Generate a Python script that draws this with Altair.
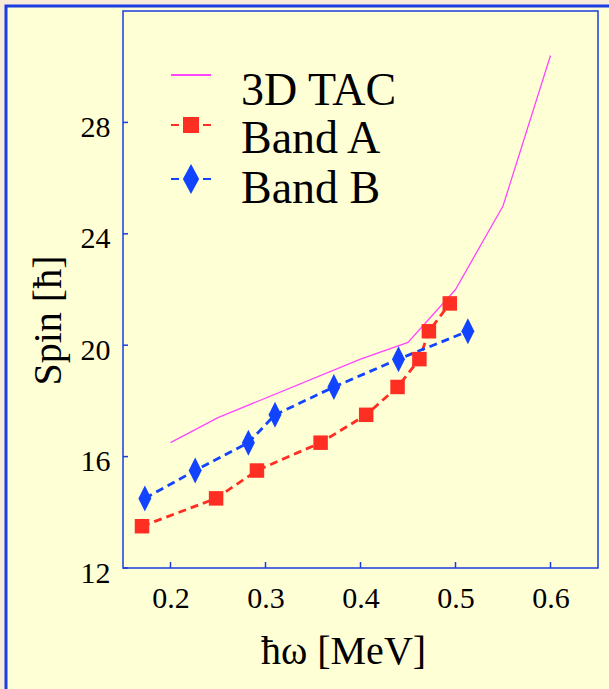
import altair as alt
import pandas as pd

# Rotational frequency (MeV) and spin (hbar) for each series
omega_tac = [0.20, 0.25, 0.40, 0.45, 0.50, 0.55, 0.60]
spin_tac = [16.5, 17.4, 19.5, 20.1, 22.0, 25.0, 30.4]

omega_a = [0.170, 0.248, 0.291, 0.358, 0.406, 0.439, 0.462, 0.472, 0.494]
spin_a = [13.5, 14.5, 15.5, 16.5, 17.5, 18.5, 19.5, 20.5, 21.5]

omega_b = [0.173, 0.226, 0.282, 0.310, 0.372, 0.440, 0.513]
spin_b = [14.5, 15.5, 16.5, 17.5, 18.5, 19.5, 20.5]

series_names = ["3D TAC", "Band A", "Band B"]
x_ticks = [0.2, 0.3, 0.4, 0.5, 0.6]
y_ticks = [12, 16, 20, 24, 28]

MAGENTA = "#ff45ff"
RED = "#ff2e22"
BLUE = "#1244ff"
AXIS_BLUE = "#1a3ce0"
PAPER = "#ffffd6"
EDGE = "#f8ebda"
FONT = "Liberation Serif"

W, H = 475, 557

tac = pd.DataFrame({"omega": omega_tac, "spin": spin_tac})
band_a = pd.DataFrame({"omega": omega_a, "spin": spin_a})
band_b = pd.DataFrame({"omega": omega_b, "spin": spin_b})

x_scale = alt.Scale(domain=[0.15, 0.65], nice=False, zero=False)
y_scale = alt.Scale(domain=[12, 32], nice=False, zero=False)

x_enc = alt.X(
    "omega:Q",
    scale=x_scale,
    axis=alt.Axis(
        title="ħω [MeV]",
        values=x_ticks,
        format=".1f",
        ticks=False,
        domain=False,
        grid=False,
        zindex=2,
        labelFont=FONT,
        labelFontSize=30,
        labelColor="black",
        labelPadding=15,
        titleFont=FONT,
        titleFontSize=40,
        titleFontWeight="normal",
        titleColor="black",
        titleBaseline="alphabetic",
        titleX=220,
        titleY=95,
    ),
)
y_enc = alt.Y(
    "spin:Q",
    scale=y_scale,
    axis=alt.Axis(
        title="Spin [ħ]",
        values=y_ticks,
        ticks=False,
        domain=False,
        grid=False,
        zindex=2,
        labelFont=FONT,
        labelFontSize=30,
        labelColor="black",
        labelPadding=13,
        labelOffset=5,
        titleFont=FONT,
        titleFontSize=40,
        titleFontWeight="normal",
        titleColor="black",
        titleBaseline="alphabetic",
        titleX=-63,
        titleY=309,
    ),
)

one_row = pd.DataFrame({"k": [0]})

# Beige margin outside the page border, and the blue page border itself
edge_left = (
    alt.Chart(one_row)
    .mark_rect(fill=EDGE)
    .encode(x=alt.value(-123), x2=alt.value(-118), y=alt.value(-11), y2=alt.value(H + 121))
)
edge_top = (
    alt.Chart(one_row)
    .mark_rect(fill=EDGE)
    .encode(x=alt.value(-123), x2=alt.value(W + 11), y=alt.value(-11), y2=alt.value(-6))
)
page_border = (
    alt.Chart(one_row)
    .mark_rect(fill=None, stroke=AXIS_BLUE, strokeWidth=3)
    .encode(x=alt.value(-117), x2=alt.value(W + 60), y=alt.value(-5), y2=alt.value(H + 160))
)

tac_line = (
    alt.Chart(tac)
    .mark_line(color=MAGENTA, strokeWidth=1.3)
    .encode(x=x_enc, y=y_enc)
)

line_a = (
    alt.Chart(band_a)
    .mark_line(color=RED, strokeWidth=2.8, strokeDash=[8, 5])
    .encode(x="omega:Q", y="spin:Q")
)
points_a = (
    alt.Chart(band_a)
    .mark_point(shape="square", filled=True, color=RED, size=210, opacity=1)
    .encode(x="omega:Q", y="spin:Q")
)

line_b = (
    alt.Chart(band_b)
    .mark_line(color=BLUE, strokeWidth=2.8, strokeDash=[8, 5])
    .encode(x="omega:Q", y="spin:Q")
)
points_b = (
    alt.Chart(band_b)
    .mark_point(
        shape="M0,-1L0.5,0L0,1L-0.5,0Z", filled=True, color=BLUE, size=676, opacity=1
    )
    .encode(x="omega:Q", y="spin:Q")
)

# Inward tick marks on the bottom and left axes
x_tick_marks = (
    alt.Chart(pd.DataFrame({"omega": x_ticks}))
    .mark_rule(color=AXIS_BLUE, strokeWidth=1.5)
    .encode(x="omega:Q", y=alt.value(H), y2=alt.value(H - 6))
)
y_tick_marks = (
    alt.Chart(pd.DataFrame({"spin": y_ticks}))
    .mark_rule(color=AXIS_BLUE, strokeWidth=1.5)
    .encode(y="spin:Q", x=alt.value(0), x2=alt.value(5))
)

# Legend symbols sit a little above their labels
legend_shapes = [
    "M-2,-1.6H2",
    "M-2,-1.4H-1.2M-0.7,-2.1H0.7V-0.7H-0.7ZM1.2,-1.4H2",
    "M-2,-1.0H-1.2M0,-2.3L0.7,-1.0L0,0.3L-0.7,-1.0ZM1.2,-1.0H2",
]
legend_colors = [MAGENTA, RED, BLUE]
leg = alt.Legend(
    title=None,
    orient="none",
    legendX=45,
    legendY=57,
    padding=0,
    labelFont=FONT,
    labelFontSize=46,
    labelColor="black",
    labelBaseline="middle",
    labelOffset=27,
    symbolSize=400,
    symbolStrokeWidth=2,
    symbolOpacity=1,
    rowPadding=0,
    labelLimit=400,
)
series_scale = alt.Scale(domain=series_names, range=legend_colors)
legend_layer = (
    alt.Chart(pd.DataFrame({"series": series_names}))
    .mark_point(filled=True, opacity=0)
    .encode(
        fill=alt.Fill("series:N", scale=series_scale, legend=leg, sort=series_names),
        stroke=alt.Stroke("series:N", scale=series_scale, legend=leg, sort=series_names),
        shape=alt.Shape(
            "series:N",
            scale=alt.Scale(domain=series_names, range=legend_shapes),
            legend=leg,
            sort=series_names,
        ),
    )
)

chart = (
    alt.layer(
        edge_left,
        edge_top,
        page_border,
        tac_line,
        line_a,
        line_b,
        points_a,
        points_b,
        x_tick_marks,
        y_tick_marks,
        legend_layer,
    )
    .properties(
        width=W,
        height=H,
        autosize=alt.AutoSizeParams(type="none"),
        padding={"left": 123, "top": 11, "right": 11, "bottom": 121},
        background=PAPER,
    )
    .configure_view(stroke=AXIS_BLUE, strokeWidth=1.5)
)

chart.save("out.html", embed_options={"renderer": "svg", "actions": False})
